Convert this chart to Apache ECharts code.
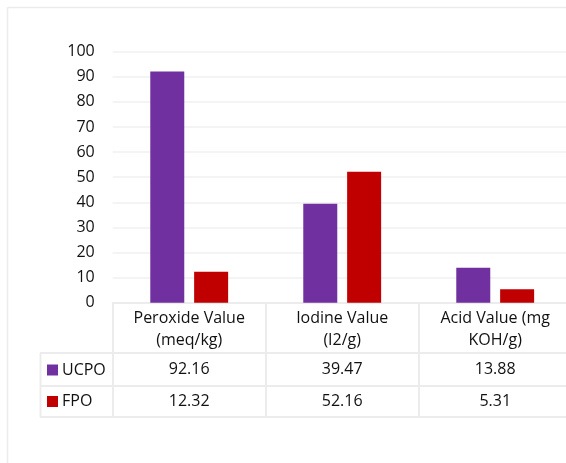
<!DOCTYPE html>
<html>
<head>
<meta charset="utf-8">
<script src="https://cdn.jsdelivr.net/npm/echarts@6/dist/echarts.min.js"></script>
<style>
  html, body { margin: 0; padding: 0; background: #fff; overflow: hidden; }
  #chart { width: 600px; height: 463px; }
</style>
</head>
<body>
<div id="chart"></div>
<script>
// Chart data
const categories = ['Peroxide Value\n(meq/kg)', 'Iodine Value\n(I2/g)', 'Acid Value (mg\nKOH/g)'];
const seriesNames = ['UCPO', 'FPO'];
const ucpoValues = [92.16, 39.47, 13.88];
const fpoValues = [12.32, 52.16, 5.31];
const yMin = 0, yMax = 100, yInterval = 10;

// Styling / layout
const FONT = '"Open Sans", Lato, sans-serif';
const FS = 16;
const TEXT = '#111111';
const RULE = '#ececec';
const colors = ['#7030A0', '#C00000'];

// The chart canvas is a bit wider than the page, so its right side runs past the view
const W = 600, H = 463;
const gridTop = 51.7, gridBottomY = 302.7, gridLeft = 112.7, gridRightEdge = 571.7;

const chart = echarts.init(document.getElementById('chart'), null, { renderer: 'canvas' });

const fmt = v => v.toFixed(2);

// Row label axes for the data table under the plot
function valueRowAxis(values, margin) {
  return {
    type: 'category',
    data: categories,
    position: 'bottom',
    gridIndex: 0,
    axisLine: { show: false },
    axisTick: { show: false },
    splitLine: { show: false },
    axisLabel: {
      margin: margin,
      interval: 0,
      fontFamily: FONT, fontSize: FS, color: TEXT, lineHeight: 20,
      formatter: (v, i) => fmt(values[i])
    }
  };
}

const option = {
  backgroundColor: '#fff',
  animation: false,
  color: colors,
  textStyle: { fontFamily: FONT },
  grid: {
    left: gridLeft,
    right: W - gridRightEdge,
    top: gridTop,
    bottom: H - gridBottomY,
    containLabel: false
  },
  legend: {
    data: seriesNames,
    orient: 'vertical',
    left: 47,
    top: 360,
    padding: 0,
    icon: 'rect',
    itemWidth: 11,
    itemHeight: 11,
    itemGap: 11.5,
    textStyle: { fontFamily: FONT, fontSize: FS, color: TEXT, lineHeight: 20, padding: [0, 0, 0, -1] },
    selectedMode: false
  },
  xAxis: [
    {
      type: 'category',
      data: categories,
      position: 'bottom',
      axisLine: { show: true, lineStyle: { color: RULE, width: 2 } },
      axisTick: { show: true, alignWithLabel: false, length: 115, lineStyle: { color: RULE, width: 2 } },
      axisLabel: {
        margin: 4, interval: 0,
        fontFamily: FONT, fontSize: FS, color: TEXT, lineHeight: 22.5
      }
    },
    valueRowAxis(ucpoValues, 57),
    valueRowAxis(fpoValues, 89)
  ],
  yAxis: {
    type: 'value',
    min: yMin, max: yMax, interval: yInterval,
    axisLine: { show: false },
    axisTick: { show: false },
    splitLine: { show: true, lineStyle: { color: '#f0f0f0', width: 1.5 } },
    axisLabel: { margin: 18, fontFamily: FONT, fontSize: FS, color: TEXT }
  },
  series: [
    {
      name: seriesNames[0], type: 'bar', xAxisIndex: 0,
      data: ucpoValues, barWidth: 34, barGap: '29%',
      itemStyle: { color: colors[0] }
    },
    {
      name: seriesNames[1], type: 'bar', xAxisIndex: 0,
      data: fpoValues, barWidth: 34, barGap: '29%',
      itemStyle: { color: colors[1] }
    }
  ],
  graphic: [
    // outer chart frame (top and left edges)
    { type: 'line', silent: true, shape: { x1: 7.5, y1: 7.5, x2: W, y2: 7.5 }, style: { stroke: '#ececec', lineWidth: 1.5 } },
    { type: 'line', silent: true, shape: { x1: 7.5, y1: 7.5, x2: 7.5, y2: H }, style: { stroke: '#ececec', lineWidth: 1.5 } },
    // table row rules
    { type: 'line', silent: true, shape: { x1: 40, y1: 353, x2: W, y2: 353 }, style: { stroke: RULE, lineWidth: 2 } },
    { type: 'line', silent: true, shape: { x1: 40, y1: 386, x2: W, y2: 386 }, style: { stroke: RULE, lineWidth: 2 } },
    { type: 'line', silent: true, shape: { x1: 40, y1: 417, x2: W, y2: 417 }, style: { stroke: RULE, lineWidth: 2 } },
    // legend column left edge
    { type: 'line', silent: true, shape: { x1: 40.5, y1: 353, x2: 40.5, y2: 417 }, style: { stroke: RULE, lineWidth: 2 } }
  ]
};

chart.setOption(option);
</script>
</body>
</html>
